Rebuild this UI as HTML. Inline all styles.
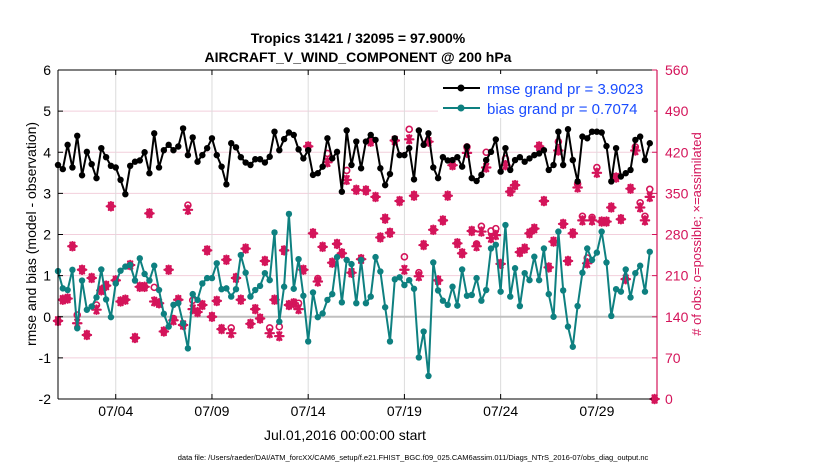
<!DOCTYPE html>
<html><head><meta charset="utf-8">
<style>
body{margin:0;background:#fff;width:830px;height:470px;overflow:hidden;font-family:"Liberation Sans",sans-serif}
svg{display:block}
</style></head>
<body>
<svg id="chart" width="830" height="470" xmlns="http://www.w3.org/2000/svg" font-family="Liberation Sans, sans-serif">
<text x="358" y="43" text-anchor="middle" font-size="14" font-weight="bold">Tropics 31421 / 32095 = 97.900%</text>
<text x="358" y="62" text-anchor="middle" font-size="14" font-weight="bold">AIRCRAFT_V_WIND_COMPONENT @ 200 hPa</text>
<text transform="translate(36,234) rotate(-90)" text-anchor="middle" font-size="14">rmse and bias (model - observation)</text>
<text transform="translate(701,234) rotate(-90)" text-anchor="middle" font-size="13" fill="#d4145a"># of obs: o=possible; ×=assimilated</text>
<text x="345" y="440" text-anchor="middle" font-size="14">Jul.01,2016 00:00:00 start</text>
<text x="413" y="460" text-anchor="middle" font-size="7.5">data file: /Users/raeder/DAI/ATM_forcXX/CAM6_setup/f.e21.FHIST_BGC.f09_025.CAM6assim.011/Diags_NTrS_2016-07/obs_diag_output.nc</text>
<g id="grid"></g>
<g id="series"></g>
<g id="axes"></g>
<g id="legend">
<rect x="438" y="74" width="216" height="44" fill="#fff"/>
<line x1="443" y1="88" x2="480" y2="88" stroke="#000" stroke-width="2"/>
<circle cx="461" cy="88" r="3.5" fill="#000"/>
<text x="487" y="94" font-size="15" fill="#1a4cff">rmse grand pr = 3.9023</text>
<line x1="443" y1="108" x2="480" y2="108" stroke="#0e8080" stroke-width="2"/>
<circle cx="461" cy="108" r="3.5" fill="#0e8080"/>
<text x="487" y="114" font-size="15" fill="#1a4cff">bias grand pr = 0.7074</text>
</g>
</svg>
<script>
const rmse = [3.69,3.59,4.18,3.63,4.4,3.44,4.01,3.71,3.37,4.1,3.88,3.67,3.63,3.33,2.98,3.67,3.77,3.8,4.0,3.49,4.46,3.63,4.05,4.18,4.05,4.14,4.58,3.93,4.36,3.77,3.93,4.1,
4.34,3.93,3.65,3.22,4.22,4.12,3.88,3.75,3.69,3.83,3.83,3.75,3.89,4.5,4.05,4.32,4.48,4.42,4.07,3.85,4.05,3.45,3.49,3.65,4.34,3.85,4.01,3.04,4.53,3.69,4.26,
3.61,4.26,4.42,4.3,3.61,3.2,3.47,4.34,3.93,3.93,4.1,3.34,4.53,4.18,4.46,3.63,3.37,3.88,3.8,3.81,3.88,3.65,4.14,3.37,3.3,3.45,3.81,4.01,4.31,3.53,4.1,3.57,
3.81,3.88,3.77,3.85,3.93,3.97,4.05,3.57,3.69,4.5,3.69,4.56,3.81,3.29,4.38,4.34,4.5,4.5,4.48,4.15,3.29,4.1,3.41,3.49,3.57,4.3,4.38,3.81,4.22];
const bias = [1.11,0.69,0.65,1.14,-0.28,0.88,0.17,0.25,0.47,1.15,0.42,-0.01,0.81,1.12,1.22,1.26,0.88,1.42,1.04,0.88,1.24,0.65,0.07,-0.24,0.29,0.33,-0.16,-0.77,0.55,0.41,0.81,0.94,
0.94,1.3,0.67,0.69,0.49,0.67,1.5,1.07,0.49,0.65,0.75,1.06,0.89,2.05,-0.12,0.73,2.5,0.68,1.4,0.51,-0.6,0.59,-0.01,0.08,0.41,0.55,1.45,0.35,1.38,1.28,0.33,
1.38,0.33,0.49,1.45,1.1,0.23,-0.6,0.91,0.96,0.77,0.89,0.68,-0.99,-0.36,-1.44,1.32,0.64,0.39,0.29,0.73,0.27,1.15,0.51,0.53,0.94,0.39,0.65,1.66,1.75,0.61,2.23,0.49,
1.18,0.26,1.06,0.89,1.46,0.89,1.66,0.55,0,2.07,0.64,-0.24,-0.73,0.26,1.07,1.66,1.38,1.56,2.07,1.32,0.02,0.67,0.61,1.15,0.47,1.06,1.24,0.61,1.58];
const obsAssim = [133,169,171,260,129,220,109,206,152,185,193,328,202,166,169,228,104,191,191,316,166,163,115,220,134,169,126,322,153,148,160,253,
140,167,119,237,112,206,169,256,128,153,137,235,112,169,107,253,160,163,153,220,430,282,200,259,403,232,264,248,373,215,356,
238,355,438,344,275,307,283,440,337,220,442,346,209,262,438,288,202,304,346,398,265,248,419,286,260,285,394,274,279,230,398,353,
364,250,256,282,290,430,337,224,268,423,298,235,282,360,304,231,304,385,302,302,326,377,306,204,358,423,326,304,344,0];
const obsPoss = [133,169,171,260,143,220,109,206,160,185,193,328,202,166,169,228,104,191,191,316,190,163,115,220,137,169,126,330,168,148,160,253,
140,167,119,237,121,206,169,256,128,153,137,235,121,169,123,253,160,163,163,220,430,282,205,259,418,232,264,248,389,215,356,
238,355,438,344,275,307,283,440,337,242,459,346,215,262,438,288,202,304,346,398,265,248,429,286,264,294,420,286,290,230,409,353,
364,250,256,282,290,430,337,224,268,438,298,235,282,366,311,240,309,394,302,302,326,377,306,204,358,429,334,311,357,0];
const xTickDays = [3,8,13,18,23,28];
const xTickLabels = ["07/04","07/09","07/14","07/19","07/24","07/29"];
const leftTicks = [-2,-1,0,1,2,3,4,5,6];
const rightTicks = [0,70,140,210,280,350,420,490,560];

const NS="http://www.w3.org/2000/svg";
const L=58,R=657,T=70,B=399;
const X0=0,X1=31.125;
function xScale(d){return L+(d-X0)/(X1-X0)*(R-L);}
function yLeft(v){return T+(6-v)/8*(B-T);}
function yRight(n){return T+(560-n)/560*(B-T);}
function mk(tag,attrs,parent){const e=document.createElementNS(NS,tag);for(const k in attrs)e.setAttribute(k,attrs[k]);parent.appendChild(e);return e;}
const grid=document.getElementById('grid'),series=document.getElementById('series'),axes=document.getElementById('axes');
const MAG="#d4145a",TEAL="#0e8080";

mk('rect',{x:L,y:T,width:R-L,height:B-T,fill:'#fff'},grid);
leftTicks.forEach(v=>{
  const g=mk('line',{x1:L,x2:R,y1:yLeft(v),y2:yLeft(v),stroke:'#f2cfdc','stroke-width':1},grid);
  
  
});
xTickDays.forEach(d=>{
  const g=mk('line',{x1:xScale(d),x2:xScale(d),y1:T,y2:B,stroke:'#dcdcdc','stroke-width':1},grid);
  
  
});
const zl=mk('line',{x1:L,x2:R,y1:yLeft(0),y2:yLeft(0),stroke:'#c0c0c0','stroke-width':2},grid);



obsPoss.forEach((n,i)=>{
  const c=mk('circle',{cx:xScale(i/4),cy:yRight(n),r:3,fill:'none',stroke:MAG,'stroke-width':1.6},series);
  
  
});
obsAssim.forEach((n,i)=>{
  const cx=xScale(i/4),cy=yRight(n),s=4.2;
  const g=mk('g',{stroke:MAG,'stroke-width':2.2,'stroke-linecap':'round'},series);
  
  
  mk('line',{x1:cx-s,y1:cy,x2:cx+s,y2:cy},g);
  mk('line',{x1:cx-s*0.5,y1:cy-s*0.87,x2:cx+s*0.5,y2:cy+s*0.87},g);
  mk('line',{x1:cx+s*0.5,y1:cy-s*0.87,x2:cx-s*0.5,y2:cy+s*0.87},g);
  mk('line',{x1:cx,y1:cy-s,x2:cx,y2:cy+s},g);
});

function line(arr,color,name){
  const pts=arr.map((v,i)=>xScale(i/4).toFixed(1)+','+yLeft(v).toFixed(1)).join(' ');
  const p=mk('polyline',{points:pts,fill:'none',stroke:color,'stroke-width':2,'stroke-linejoin':'round'},series);
  
  
  arr.forEach((v,i)=>{
    const c=mk('circle',{cx:xScale(i/4),cy:yLeft(v),r:3.2,fill:color},series);
    
    
  });
}
line(bias,TEAL,'bias');
line(rmse,'#000','rmse');

mk('line',{x1:L,x2:R,y1:T,y2:T,stroke:'#000','stroke-width':1},axes);
mk('line',{x1:L,x2:R,y1:B,y2:B,stroke:'#000','stroke-width':1},axes);
mk('line',{x1:L,x2:L,y1:T,y2:B,stroke:'#000','stroke-width':1},axes);
mk('line',{x1:R,x2:R,y1:T,y2:B,stroke:MAG,'stroke-width':1.2},axes);
leftTicks.forEach(v=>{
  const y=yLeft(v);
  mk('line',{x1:L,x2:L+5,y1:y,y2:y,stroke:'#000'},axes);
  const t=mk('text',{x:L-7,y:y+5,'text-anchor':'end','font-size':14},axes);
  t.textContent=v;
  
  
});
rightTicks.forEach(n=>{
  const y=yRight(n);
  mk('line',{x1:R-5,x2:R,y1:y,y2:y,stroke:MAG},axes);
  const t=mk('text',{x:R+8,y:y+5,'font-size':14,fill:MAG},axes);
  t.textContent=n;
  
  
});
xTickDays.forEach((d,i)=>{
  const x=xScale(d);
  mk('line',{x1:x,x2:x,y1:B-5,y2:B,stroke:'#000'},axes);
  mk('line',{x1:x,x2:x,y1:T,y2:T+5,stroke:'#000'},axes);
  const t=mk('text',{x:x,y:B+17,'text-anchor':'middle','font-size':14},axes);
  t.textContent=xTickLabels[i];
  
  
});
</script>
</body></html>
